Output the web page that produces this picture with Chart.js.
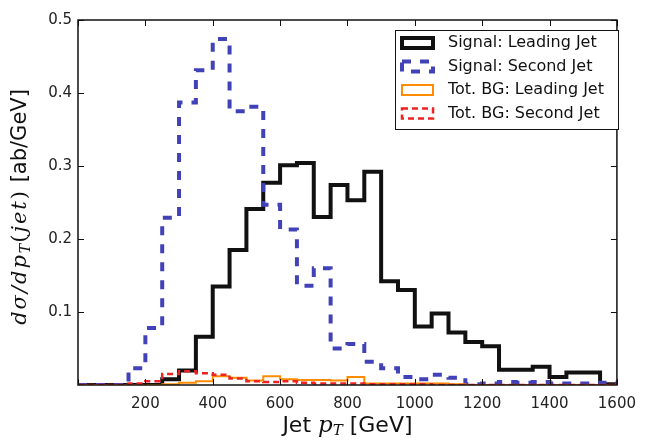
<!DOCTYPE html>
<html>
<head>
<meta charset="utf-8">
<script src="https://cdn.jsdelivr.net/npm/chart.js@4"></script>
<style>
  html, body { margin: 0; padding: 0; background: #fff; }
  #wrap { width: 646px; height: 440px; }
</style>
</head>
<body>
<div id="wrap"><canvas id="chart" width="646" height="440"></canvas></div>
<script>
// bin edges in GeV (50 GeV bins)
const binEdges = [0, 50, 100, 150, 200, 250, 300, 350, 400, 450, 500, 550, 600, 650, 700, 750,
  800, 850, 900, 950, 1000, 1050, 1100, 1150, 1200, 1250, 1300, 1350, 1400, 1450, 1500, 1550, 1600];

// values per bin, ab/GeV
const sigLeading = [0, 0, 0, 0, 0, 0.008, 0.020, 0.066, 0.135, 0.185, 0.241, 0.277, 0.301, 0.304, 0.230, 0.274,
  0.253, 0.292, 0.142, 0.130, 0.080, 0.098, 0.072, 0.059, 0.053, 0.021, 0.021, 0.025, 0.011, 0.017, 0.017, 0.001];
const sigSecond = [0, 0, 0, 0.023, 0.078, 0.229, 0.387, 0.431, 0.474, 0.375, 0.381, 0.247, 0.213, 0.136, 0.160, 0.050,
  0.056, 0.032, 0.023, 0.011, 0.008, 0.014, 0.010, 0.001, 0.002, 0.004, 0.003, 0.004, 0.002, 0.002, 0.002, 0.003];
const bgLeading = [0, 0, 0, 0, 0, 0.001, 0.003, 0.005, 0.012, 0.010, 0.006, 0.012, 0.008, 0.007, 0.007, 0.006,
  0.011, 0.002, 0.002, 0.002, 0.002, 0.002, 0.001, 0, 0, 0, 0, 0, 0, 0, 0, 0];
const bgSecond = [0, 0, 0, 0.002, 0.005, 0.015, 0.019, 0.016, 0.014, 0.009, 0.005, 0.004, 0.005, 0.003, 0.002, 0.002,
  0.002, 0.001, 0.001, 0.001, 0.001, 0, 0, 0, 0, 0, 0, 0, 0, 0, 0, 0];

const xTicks = [200, 400, 600, 800, 1000, 1200, 1400, 1600];
const yTicks = [0.1, 0.2, 0.3, 0.4, 0.5];

const seriesNames = ["Signal: Leading Jet", "Signal: Second Jet", "Tot. BG: Leading Jet", "Tot. BG: Second Jet"];

// turn bin values into step points (value held until the next edge)
const toSteps = (vals) => {
  const pts = [];
  for (let i = 0; i < vals.length; i++) pts.push({ x: binEdges[i], y: vals[i] });
  pts.push({ x: binEdges[binEdges.length - 1], y: vals[vals.length - 1] });
  pts.push({ x: binEdges[binEdges.length - 1], y: 0 });
  return pts;
};

const mathFont = (size) => `italic ${size}px "DejaVu Serif"`;
const uprightSerif = (size) => `${size}px "DejaVu Serif"`;
const sans = (size) => `${size}px "DejaVu Sans"`;

// draws a list of text pieces centred on (cx, cy), optionally rotated
const drawPieces = (ctx, pieces, cx, cy, rot) => {
  ctx.save();
  ctx.translate(cx, cy);
  if (rot) ctx.rotate(rot);
  const widths = pieces.map((p) => {
    ctx.font = p.font;
    ctx.letterSpacing = p.spacing || "0px";
    return ctx.measureText(p.text).width;
  });
  const total = widths.reduce((s, w) => s + w, 0);
  let x = -total / 2;
  ctx.textBaseline = "middle";
  ctx.textAlign = "left";
  ctx.fillStyle = "#111";
  pieces.forEach((p, i) => {
    ctx.font = p.font;
    ctx.letterSpacing = p.spacing || "0px";
    ctx.fillText(p.text, x, p.dy || 0);
    x += widths[i];
  });
  ctx.letterSpacing = "0px";
  ctx.restore();
};

const datasets = [
  { label: seriesNames[0], data: toSteps(sigLeading), borderColor: "#111111", borderWidth: 4, order: 4 },
  { label: seriesNames[1], data: toSteps(sigSecond), borderColor: "#4242b8", borderWidth: 4, borderDash: [9, 9], order: 3 },
  { label: seriesNames[2], data: toSteps(bgLeading), borderColor: "#ff8c00", borderWidth: 2, order: 2 },
  { label: seriesNames[3], data: toSteps(bgSecond), borderColor: "#ee2222", borderWidth: 2.5, borderDash: [6, 4], order: 1 },
];

// frame, inward ticks, legend and axis titles
const decor = {
  id: "decor",
  afterDatasetsDraw(chart) {
    const { ctx, chartArea: a, scales } = chart;
    ctx.save();
    ctx.strokeStyle = "#111";
    ctx.lineWidth = 1;
    ctx.beginPath();
    for (let v of [0].concat(xTicks)) {
      const px = Math.round(scales.x.getPixelForValue(v)) + 0.5;
      ctx.moveTo(px, a.bottom); ctx.lineTo(px, a.bottom - 6);
      ctx.moveTo(px, a.top); ctx.lineTo(px, a.top + 6);
    }
    for (let v of yTicks) {
      const py = Math.round(scales.y.getPixelForValue(v)) + 0.5;
      ctx.moveTo(a.left, py); ctx.lineTo(a.left + 6, py);
      ctx.moveTo(a.right, py); ctx.lineTo(a.right - 6, py);
    }
    ctx.stroke();
    ctx.lineWidth = 1.5;
    ctx.strokeRect(a.left, a.top, a.right - a.left, a.bottom - a.top);

    // legend
    const lx = 395, ly = 30, lw = 223, lh = 99;
    ctx.fillStyle = "#fff";
    ctx.fillRect(lx, ly, lw, lh);
    ctx.lineWidth = 1;
    ctx.strokeStyle = "#111";
    ctx.strokeRect(lx + 0.5, ly + 0.5, lw, lh);
    chart.data.datasets.forEach((ds, i) => {
      const cy = 43 + i * 23.5;
      ctx.save();
      ctx.strokeStyle = ds.borderColor;
      ctx.lineWidth = ds.borderWidth;
      ctx.setLineDash(ds.borderDash || []);
      ctx.strokeRect(402, cy - 5, 31, 10);
      ctx.restore();
      ctx.fillStyle = "#111";
      ctx.font = sans(16);
      ctx.textBaseline = "middle";
      ctx.textAlign = "left";
      ctx.fillText(ds.label, 448, cy);
    });

    // axis titles
    drawPieces(ctx, [
      { text: "Jet ", font: sans(22) },
      { text: "p", font: mathFont(23) },
      { text: "T", font: mathFont(15), dy: 5 },
      { text: " [GeV]", font: sans(22) },
    ], (a.left + a.right) / 2, 426, 0);
    drawPieces(ctx, [
      { text: "dσ/dp", font: mathFont(21), spacing: "2px" },
      { text: "T", font: mathFont(14), dy: 5, spacing: "1px" },
      { text: "(", font: uprightSerif(21), spacing: "2px" },
      { text: "jet", font: mathFont(21), spacing: "2px" },
      { text: ")", font: uprightSerif(21), spacing: "2px" },
      { text: " [ab/GeV]", font: sans(21) },
    ], 21, 207, -Math.PI / 2);
    ctx.restore();
  },
};

const config = {
  type: "line",
  data: { datasets },
  options: {
    responsive: false,
    animation: false,
    events: [],
    layout: { padding: { top: 20, right: 20, left: 0, bottom: 0 } },
    elements: {
      line: { stepped: "before", tension: 0, fill: false, borderCapStyle: "butt", borderJoinStyle: "miter" },
      point: { radius: 0 },
    },
    plugins: { legend: { display: false }, tooltip: { enabled: false } },
    scales: {
      x: {
        type: "linear",
        min: 0,
        max: 1600,
        afterFit: (s) => { s.height = 55; },
        afterBuildTicks: (s) => { s.ticks = xTicks.map((v) => ({ value: v })); },
        grid: { display: false, drawTicks: false },
        border: { display: false },
        ticks: { color: "#222", padding: 10, font: { family: "DejaVu Sans", size: 15 }, maxRotation: 0, autoSkip: false,
          callback: (v) => String(v) },
      },
      y: {
        type: "linear",
        min: 0,
        max: 0.5,
        afterFit: (s) => { s.width = 78; },
        afterBuildTicks: (s) => { s.ticks = yTicks.map((v) => ({ value: v })); },
        grid: { display: false, drawTicks: false },
        border: { display: false },
        ticks: { color: "#222", padding: 6, font: { family: "DejaVu Sans", size: 15 }, callback: (v) => v.toFixed(1) },
      },
    },
  },
  plugins: [decor],
};

new Chart(document.querySelector("#chart").getContext("2d"), config);
</script>
</body>
</html>
